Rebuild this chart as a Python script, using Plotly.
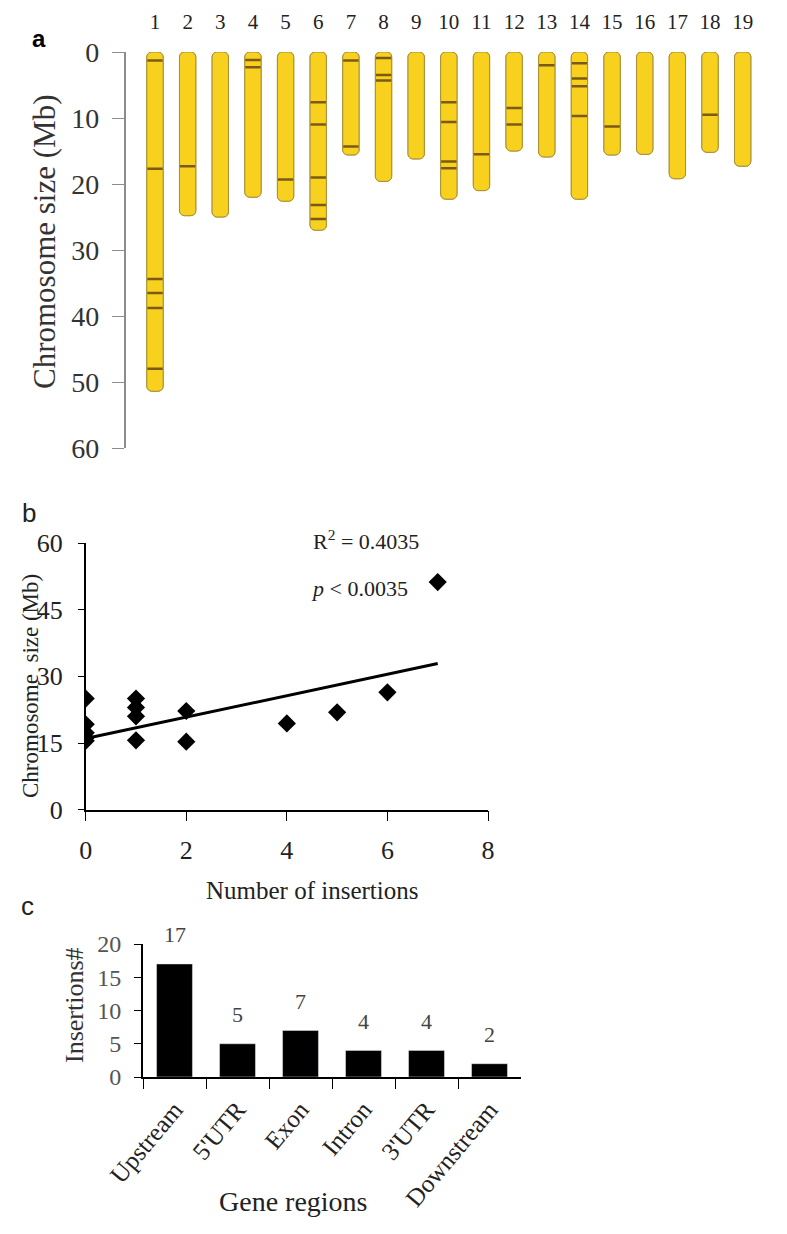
import plotly.graph_objects as go

# ---- panel a: chromosome sizes (Mb) and insertion sites ----
chrom_names = [str(i) for i in range(1, 20)]
chrom_sizes = [51.4, 24.8, 25.0, 22.0, 22.6, 27.0, 15.6, 19.6, 16.2, 22.3,
               21.0, 15.0, 15.9, 22.3, 15.6, 15.5, 19.2, 15.2, 17.3]
insert_sites = {
    '1': [1.3, 17.7, 34.4, 36.5, 38.8, 48.0],
    '2': [17.3],
    '4': [1.2, 2.3],
    '5': [19.3],
    '6': [7.6, 11.0, 19.0, 23.2, 25.3],
    '7': [1.3, 14.3],
    '8': [0.9, 3.5, 4.3],
    '10': [7.6, 10.6, 16.6, 17.6],
    '11': [15.5],
    '12': [8.5, 11.0],
    '13': [2.0],
    '14': [1.7, 4.0, 5.2, 9.7],
    '15': [11.3],
    '18': [9.5],
}

# ---- panel b: insertions vs chromosome size ----
n_insertions = [0, 0, 0, 0, 0, 1, 1, 1, 1, 2, 2, 4, 5, 6, 7]
size_mb = [25.0, 19.2, 17.3, 16.2, 15.5, 25.0, 23.0, 21.0, 15.6, 22.2, 15.3,
           19.4, 21.9, 26.4, 51.2]
trend_x = [0, 7]
trend_y = [16.0, 32.9]

# ---- panel c: insertions per gene region ----
regions = ['Upstream', "5'UTR", 'Exon', 'Intron', "3'UTR", 'Downstream']
counts = [17, 5, 7, 4, 4, 2]

W, H = 787, 1234
SERIF = 'Liberation Serif, Times New Roman, serif'


def fx(p):
    return p / W


def fy(p):
    return 1 - p / H


band_x, band_y = [], []
for c in chrom_names:
    for s in insert_sites.get(c, []):
        band_x.append(c)
        band_y.append(s)

fig = go.Figure()

# chromosomes: two overlaid bars so both ends get rounded
chrom_style = dict(color='#F7D11E', cornerradius=5,
                   line=dict(color='#A88F3A', width=1))
fig.add_trace(go.Bar(x=chrom_names, y=chrom_sizes, base=0, width=0.5,
                     marker=chrom_style, xaxis='x', yaxis='y',
                     showlegend=False))
fig.add_trace(go.Bar(x=chrom_names, y=[-s for s in chrom_sizes],
                     base=chrom_sizes, width=0.5, marker=chrom_style,
                     xaxis='x', yaxis='y', showlegend=False))
fig.add_trace(go.Scatter(x=band_x, y=band_y, mode='markers',
                         marker=dict(symbol='line-ew', size=11,
                                     line=dict(color='#7A5A14', width=2.5)),
                         xaxis='x', yaxis='y', showlegend=False))

fig.add_trace(go.Scatter(x=trend_x, y=trend_y, mode='lines',
                         line=dict(color='black', width=3),
                         xaxis='x2', yaxis='y2', showlegend=False))
fig.add_trace(go.Scatter(x=n_insertions, y=size_mb, mode='markers',
                         marker=dict(symbol='diamond', size=14, color='black'),
                         xaxis='x2', yaxis='y2', showlegend=False))

fig.add_trace(go.Bar(x=regions, y=counts, width=0.57,
                     marker=dict(color='black'),
                     xaxis='x3', yaxis='y3', showlegend=False))

ax_common = dict(showgrid=False, zeroline=False, automargin=False)

fig.update_layout(
    width=W, height=H,
    margin=dict(l=0, r=0, t=0, b=0),
    barmode='overlay',
    plot_bgcolor='white', paper_bgcolor='white',
    font=dict(family=SERIF, color='#222'),
    xaxis=dict(domain=[fx(117.6), fx(751)], anchor='y', type='category',
               categoryarray=chrom_names, range=[-0.9, 18.5], side='top',
               showline=False, ticks='', tickfont=dict(size=21, color='#222'),
               ticklabelstandoff=18, **ax_common),
    yaxis=dict(domain=[fy(440), fy(44)], anchor='x', range=[60, 0],
               tickvals=[0, 10, 20, 30, 40, 50, 60], ticks='outside',
               ticklen=12, tickcolor='#8c8c8c', showline=True,
               linecolor='#8c8c8c', linewidth=1.5,
               tickfont=dict(size=28, color='#333'), ticklabelstandoff=7,
               **ax_common),
    xaxis2=dict(domain=[fx(77.7), fx(480)], anchor='y2', range=[0, 8],
                tickvals=[0, 2, 4, 6, 8], ticks='outside', ticklen=10,
                tickcolor='black', showline=True, linecolor='black',
                linewidth=1.5, tickfont=dict(size=26, color='#222'),
                ticklabelstandoff=6, **ax_common),
    yaxis2=dict(domain=[fy(801.7), fy(535)], anchor='x2', range=[0, 60],
                tickvals=[0, 15, 30, 45, 60], ticks='outside', ticklen=6,
                tickcolor='black', showline=True, linecolor='black',
                linewidth=1.5, tickfont=dict(size=26, color='#222'),
                ticklabelstandoff=10, **ax_common),
    xaxis3=dict(domain=[fx(135), fx(513)], anchor='y3', type='category',
                tickson='boundaries', ticks='outside', ticklen=10,
                tickcolor='black', showline=True, linecolor='black',
                linewidth=2, tickangle=-50,
                tickfont=dict(size=25, color='#222'), ticklabelstandoff=6,
                **ax_common),
    yaxis3=dict(domain=[fy(1069), fy(936)], anchor='x3', range=[0, 20],
                tickvals=[0, 5, 10, 15, 20], ticks='outside', ticklen=7,
                tickcolor='black', showline=True, linecolor='black',
                linewidth=2, tickfont=dict(size=24, color='#555'),
                ticklabelstandoff=8, **ax_common),
)

notes = [
    dict(text='<b>a</b>', x=fx(31), y=fy(30), font=dict(family='Liberation Sans', size=24, color='black')),
    dict(text='b', x=fx(21), y=fy(505), font=dict(family='Liberation Sans', size=26, color='#222')),
    dict(text='c', x=fx(19), y=fy(898), font=dict(family='Liberation Sans', size=26, color='#222')),
    dict(text='Chromosome size (Mb)', x=fx(36), y=fy(234), textangle=-90,
         font=dict(size=31, color='#333')),
    dict(text='Chromosome  size (Mb)', x=fx(22), y=fy(678), textangle=-90,
         font=dict(size=23, color='#222')),
    dict(text='Number of insertions', x=fx(304), y=fy(882),
         font=dict(size=25, color='#222')),
    dict(text='Insertions#', x=fx(66), y=fy(997), textangle=-90,
         font=dict(size=26, color='#333')),
    dict(text='Gene regions', x=fx(285), y=fy(1193),
         font=dict(size=28, color='#222')),
    dict(text='R<sup>2</sup> = 0.4035', x=fx(303), y=fy(532), xanchor='left',
         font=dict(size=22, color='#222')),
    dict(text='<i>p</i> < 0.0035', x=fx(301), y=fy(580), xanchor='left',
         font=dict(size=22, color='#222')),
]
for n in notes:
    n.setdefault('xanchor', 'center')
    fig.add_annotation(xref='paper', yref='paper', yanchor='middle',
                       showarrow=False, **n)

for r, v in zip(regions, counts):
    fig.add_annotation(xref='x3', yref='y3', x=r, y=v, yshift=29,
                       text=str(v), showarrow=False, yanchor='middle',
                       font=dict(size=22, color='#444'))

fig.write_html("out.html")
